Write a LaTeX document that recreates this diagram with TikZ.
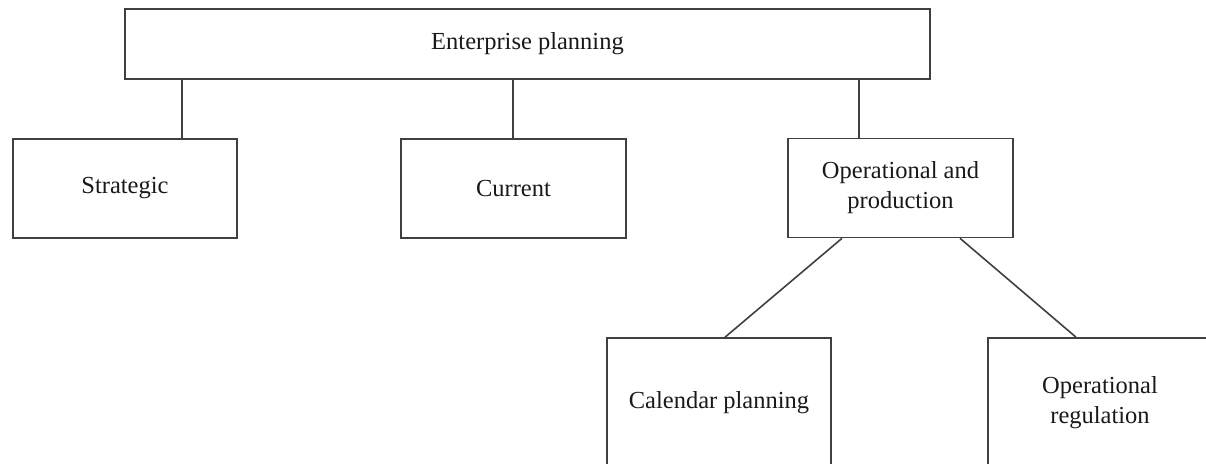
\documentclass[tikz,border=0pt]{standalone}
\usepackage{fontspec}
\setmainfont{Liberation Serif}
\begin{document}
\begin{tikzpicture}[x=1pt,y=-1pt,
  box/.style={draw=black!75, line width=1.6pt, rectangle, inner sep=0pt, align=center,
    font=\fontsize{24.5}{30}\selectfont, text=black!90},
  link/.style={draw=black!75, line width=1.6pt}]
\useasboundingbox (0,0) rectangle (1206,463);
\node[box, minimum width=805pt, minimum height=70pt] (top) at (527.5,44) {Enterprise planning};
\node[box, minimum width=224pt, minimum height=99pt] (strat) at (125,188.5) {Strategic};
\node[box, minimum width=225pt, minimum height=99pt] (curr) at (513.5,188.5) {Current};
\node[box, minimum width=225pt, minimum height=99pt] (oper) at (900.5,188) {Operational and\\production};
\node[box, minimum width=224pt, minimum height=130pt] (cal) at (719,403) {Calendar planning};
\node[box, minimum width=224pt, minimum height=130pt] (reg) at (1100,403) {Operational\\regulation};
\draw[link] (top.south -| 182,0) -- (strat.north -| 182,0);
\draw[link] (top.south -| 513,0) -- (curr.north -| 513,0);
\draw[link] (top.south -| 859,0) -- (oper.north -| 859,0);
\draw[link] (oper.south -| 842,0) -- (cal.north -| 725,0);
\draw[link] (oper.south -| 960,0) -- (reg.north -| 1076,0);
\end{tikzpicture}
\end{document}
